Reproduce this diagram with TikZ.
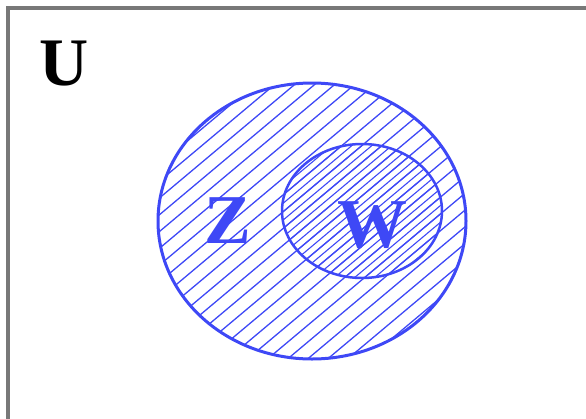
\documentclass[tikz,border=0pt]{standalone}
\usepackage{fontspec}
\setmainfont{Liberation Serif}
\usepackage{tikz}
\usetikzlibrary{shapes.geometric, positioning}
\definecolor{penblue}{RGB}{62,72,246}
\definecolor{framegray}{RGB}{120,120,120}

\begin{document}
\begin{tikzpicture}[
    x=1pt, y=-1pt,
    setline/.style={draw=penblue, line width=3pt, ellipse, inner sep=0pt},
    hatch/.style={penblue, line width=1.3pt},
    setlabel/.style={text=penblue, font=\fontsize{70}{70}\selectfont\bfseries},
    universe/.style={font=\fontsize{68}{68}\selectfont\bfseries}
]
\useasboundingbox (0,0) rectangle (586,418);

% Frame
\draw[framegray, line width=4pt] (588,8) -- (8,8) -- (8,420);

% Hatching
\begin{scope}
  \clip (312,221) ellipse (154 and 138);
  \foreach \k in {-30,...,30}
    \draw[hatch] (312+\k*20,221) ++(140:300) -- ++(-40:600);
\end{scope}
\begin{scope}
  \clip (362,211) ellipse (80 and 67);
  \foreach \k in {-30,...,30}
    \draw[hatch, line width=1.1pt] (312+\k*10,221) ++(140:300) -- ++(-40:600);
\end{scope}

% Nodes
\node[setline, minimum width=308pt, minimum height=276pt] (Zset) at (312,221) {};
\node[setline, minimum width=160pt, minimum height=134pt, line width=2.5pt] (Wset) at (362,211) {};
\node[universe] (Ulabel) at (64,64) {U};
\node[setlabel] (Zlabel) at (228,221) {Z};
\node[setlabel] (Wlabel) at (372,225) {W};

\end{tikzpicture}
\end{document}
